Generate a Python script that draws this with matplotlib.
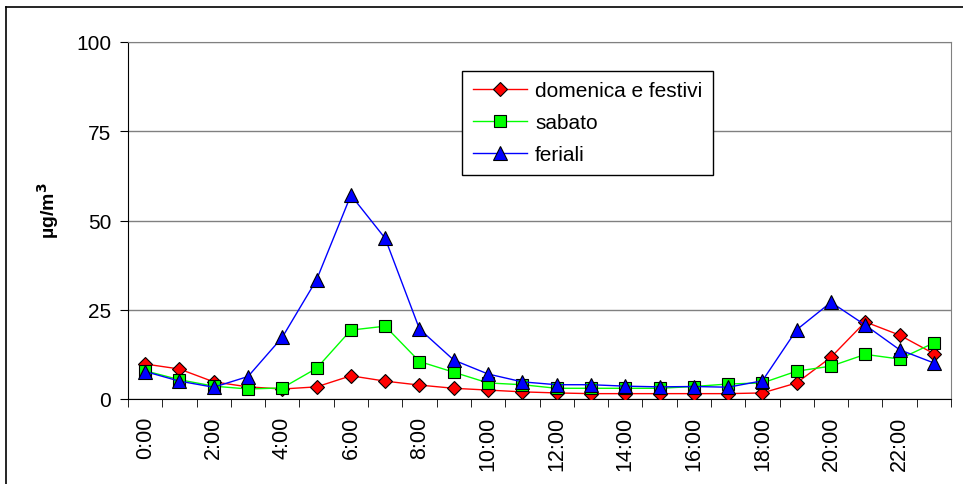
import matplotlib
matplotlib.use("Agg")
import matplotlib.pyplot as plt
from matplotlib.lines import Line2D
import numpy as np

plt.rcParams["font.family"] = ["Liberation Sans", "DejaVu Sans"]

hours = ["%d:00" % h for h in range(24)]

domenica = [9.8, 8.4, 4.8, 3.4, 2.8, 3.4, 6.5, 5.0, 3.9, 3.0, 2.5, 2.0,
            1.7, 1.5, 1.5, 1.5, 1.5, 1.5, 1.7, 4.5, 11.7, 21.6, 17.9, 12.7]
sabato = [7.9, 5.4, 3.6, 2.8, 3.1, 8.6, 19.3, 20.4, 10.5, 7.5, 4.5, 4.0,
          3.0, 3.0, 3.0, 3.0, 3.5, 4.2, 4.5, 7.8, 9.2, 12.5, 11.2, 15.7]
feriali = [7.7, 5.0, 3.3, 6.3, 17.3, 33.4, 57.1, 45.0, 19.6, 10.9, 7.0, 4.8,
           4.0, 4.0, 3.6, 3.4, 3.5, 3.3, 5.1, 19.4, 27.1, 20.7, 13.8, 10.1]

fig = plt.figure(figsize=(9.63, 4.85), dpi=100)
ax = fig.add_axes([128/963, 1-400/485, (951-128)/963, (400-43)/485])

x = np.arange(len(hours))
ax.plot(x, domenica, color="#ff0000", lw=1, marker="D", ms=7.5,
        mfc="#ff0000", mec="black", mew=0.8, label="domenica e festivi", zorder=3)
ax.plot(x, sabato, color="#00ff00", lw=1, marker="s", ms=8.5,
        mfc="#00ff00", mec="black", mew=0.8, label="sabato", zorder=4)
ax.plot(x, feriali, color="#0000ff", lw=1, marker="^", ms=10,
        mfc="#0000ff", mec="black", mew=0.8, label="feriali", zorder=5)

ax.set_xlim(-0.5, 23.5)
ax.set_ylim(0, 100)
ax.set_yticks([0, 25, 50, 75, 100])
ax.set_xticks(x[::2])
ax.set_xticklabels(hours[::2], rotation=90, fontsize=15.5)
ax.set_xticks(np.arange(-0.5, 24, 1), minor=True)
ax.tick_params(axis="x", which="major", length=0, pad=12)
ax.tick_params(axis="x", which="minor", length=6, direction="out", color="black")
ax.tick_params(axis="y", length=6, direction="out", labelsize=15, pad=6)
ax.yaxis.grid(True, color="#808080", lw=1)
ax.set_axisbelow(True)

ax.spines["left"].set_color("black")
ax.spines["bottom"].set_color("black")
ax.spines["top"].set_color("#808080")
ax.spines["right"].set_color("#808080")

ax.set_ylabel("µg/m$^\\mathbf{3}$", fontsize=14, fontweight="bold")
ax.yaxis.set_label_coords(-0.082, 0.53)

leg = ax.legend(loc="upper left", bbox_to_anchor=(0.406, 0.919), fontsize=15,
                frameon=True, fancybox=False, framealpha=1, borderpad=0.5,
                labelspacing=0.62, handlelength=2.6, handletextpad=0.4,
                borderaxespad=0)
leg.get_frame().set_edgecolor("black")
leg.get_frame().set_linewidth(1)

# outer chart frame (top and left visible)
fig.add_artist(Line2D([6/963, 1], [1-8/485, 1-8/485], color="black", lw=1.2))
fig.add_artist(Line2D([6/963, 6/963], [0, 1-8/485], color="black", lw=1.2))

fig.savefig("out.png", dpi=100)
